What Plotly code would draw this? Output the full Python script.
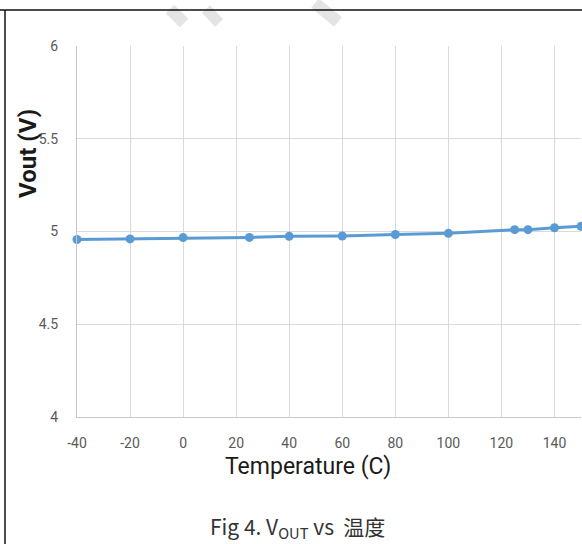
import plotly.graph_objects as go

temps = [-40, -20, 0, 25, 40, 60, 80, 100, 125, 130, 140, 150]
vout = [4.957, 4.96, 4.967, 4.968, 4.974, 4.976, 4.984, 4.99, 5.01, 5.01, 5.02, 5.028]
x_ticks = [-40, -20, 0, 20, 40, 60, 80, 100, 120, 140]
x_tick_text = ["-40", "-20", "0", "20", "40", "60", "80", "100", "120", "140"]
y_ticks = [4, 4.5, 5, 5.5, 6]
y_tick_text = ["4", "4.5", "5", "5.5", "6"]

W, H = 582, 544
L, R, T, B = 77, 1, 46, 127
pw, ph = W - L - R, H - T - B


def px(x):
    return (x - L) / pw


def py(y):
    return (H - B - y) / ph


font_main = "Roboto, Liberation Sans, sans-serif"

fig = go.Figure()
fig.add_trace(go.Scatter(
    x=temps, y=vout, mode="lines+markers",
    line=dict(color="#5B9BD5", width=3),
    marker=dict(color="#5B9BD5", size=9),
    cliponaxis=False, showlegend=False,
))

axis_common = dict(showgrid=True, gridcolor="#d9d9d9", gridwidth=1,
                   showline=True, linecolor="#c8c8c8", linewidth=1,
                   zeroline=False, ticks="",
                   tickfont=dict(family=font_main, size=14, color="#595959"))

fig.update_xaxes(range=[-40, 150], tickvals=x_ticks, ticktext=x_tick_text,
                 ticklabelstandoff=13, **axis_common)
fig.update_yaxes(range=[4, 6], tickvals=y_ticks, ticktext=y_tick_text,
                 ticklabelstandoff=15, **axis_common)

annotations = [
    dict(text="<b>Vout (V)</b>", x=px(28), y=py(154), textangle=-90,
         font=dict(family=font_main, size=24, color="#1a1a1a")),
    dict(text="Temperature (C)", x=px(308), y=py(466),
         font=dict(family=font_main, size=23, color="#1a1a1a")),
    dict(text="Fig 4. V<sub>OUT</sub> vs  温度", x=px(297), y=py(527),
         font=dict(family="Noto Sans CJK SC, Noto Sans, sans-serif", size=21, color="#333333")),
]
for a in annotations:
    a.update(xref="paper", yref="paper", showarrow=False, xanchor="center", yanchor="middle")

shapes = [
    # faint watermark fragments
    dict(type="line", x0=px(170), y0=py(9), x1=px(184), y1=py(23), line=dict(color="#e4e4e4", width=12)),
    dict(type="line", x0=px(206), y0=py(9), x1=px(219), y1=py(23), line=dict(color="#e4e4e4", width=11)),
    dict(type="line", x0=px(315), y0=py(3), x1=px(338), y1=py(22), line=dict(color="#e4e4e4", width=12)),
    # frame lines
    dict(type="line", x0=px(0), y0=py(10), x1=px(W), y1=py(10), line=dict(color="#111111", width=1.5)),
    dict(type="line", x0=px(5), y0=py(10), x1=px(5), y1=py(H + 5), line=dict(color="#111111", width=1.5)),
]
for s in shapes:
    s.update(xref="paper", yref="paper")

fig.update_layout(
    width=W, height=H,
    margin=dict(l=L, r=R, t=T, b=B, pad=0),
    paper_bgcolor="white", plot_bgcolor="white",
    annotations=annotations, shapes=shapes,
)

fig.write_html("out.html")
